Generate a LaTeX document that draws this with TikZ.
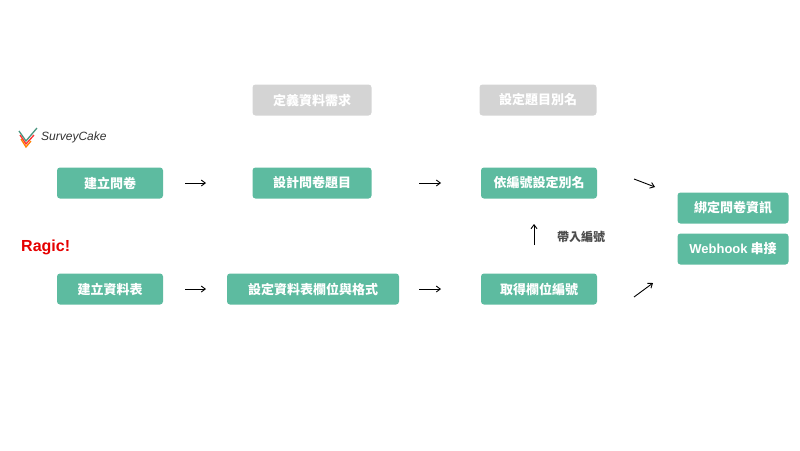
\documentclass[tikz,border=0pt]{standalone}
\usepackage{fontspec}
\setmainfont{Noto Sans CJK TC}
\newfontfamily\lat{Liberation Sans}
\usetikzlibrary{arrows.meta}
\begin{document}
\begin{tikzpicture}[x=1pt,y=-1pt,
  box/.style={draw=none,fill=teal1,rounded corners=3pt,minimum height=31pt,text=white,font=\fontsize{13}{14}\selectfont\bfseries,inner sep=0pt},
  gbox/.style={box,fill=gray1},
  arr/.style={-{Straight Barb[length=4pt,width=6pt]},line width=0.9pt,black}]
\definecolor{teal1}{HTML}{5DBBA0}
\definecolor{gray1}{HTML}{D4D4D4}
\useasboundingbox (0,0) rectangle (800,450);
\node[box,minimum width=106pt] (a1) at (110,183) {建立問卷};
\node[box,minimum width=119pt] (a2) at (312,183) {設計問卷題目};
\node[box,minimum width=116pt] (a3) at (539,183) {依編號設定別名};
\node[gbox,minimum width=119pt] (g1) at (312,100) {定義資料需求};
\node[gbox,minimum width=117pt] (g2) at (538,100) {設定題目別名};
\node[box,minimum width=106pt] (b1) at (110,289) {建立資料表};
\node[box,minimum width=172pt] (b2) at (313,289) {設定資料表欄位與格式};
\node[box,minimum width=116pt] (b3) at (539,289) {取得欄位編號};
\node[box,minimum width=111pt] (c1) at (733,208) {綁定問卷資訊};
\node[box,minimum width=111pt] (c2) at (733,249) {{\lat\bfseries Webhook} 串接};
\node[font=\fontsize{12}{14}\selectfont\bfseries,text=black!70] (lab) at (581,237) {帶入編號};
\node[font=\lat\bfseries\fontsize{16}{16}\selectfont,text=red!90!black,anchor=west,inner sep=0] (rag) at (21,247) {Ragic!};
\node[font=\lat\itshape\fontsize{12}{12}\selectfont,text=black!80,anchor=west,inner sep=0] (sc) at (41,137) {SurveyCake};
\draw[teal1!80!black,line width=1.3pt] (19,131) -- (26,141) -- (37,128);
\draw[red!80,line width=1.3pt] (20,135) -- (26,144) -- (34,135);
\draw[orange,line width=1.3pt] (21,139) -- (26,147) -- (31,141);
\foreach \n/\xa/\ya/\xb/\yb in {p1/185/183/206/183, p2/419/183/441/183, p3/185/289/206/289, p4/419/289/441/289, p5/534/245/534/224, p6/634/179/655/187, p7/634/297/653/283}{
  \coordinate (\n s) at (\xa,\ya); \coordinate (\n e) at (\xb,\yb);
  \draw[arr] (\n s) -- (\n e);}
\end{tikzpicture}
\end{document}
